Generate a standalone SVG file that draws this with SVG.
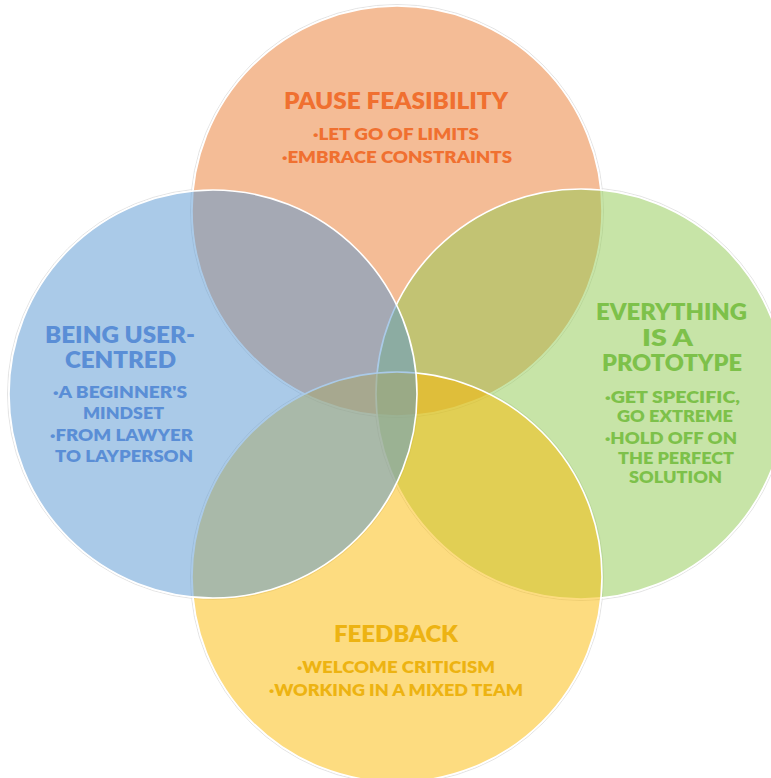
<svg xmlns="http://www.w3.org/2000/svg" width="771" height="778" viewBox="0 0 771 778">
  <style>
    .ring { stroke: #ffffff; stroke-width: 1.6; }
    .halo { fill: none; stroke: #e4e4e4; stroke-width: 1; }
    text { font-family: "Lato", "Liberation Sans", sans-serif; font-weight: 800; text-anchor: middle; }
    .title { font-size: 22px; }
    .item { font-size: 16.5px; }
    .t-orange { fill: #F07030; }
    .t-blue { fill: #5A8ED6; }
    .t-green { fill: #7DC14A; }
    .t-yellow { fill: #EDB312; }
  </style>
  <rect width="771" height="778" fill="#ffffff"/>

  <!-- faint outer edges -->
  <g id="edges">
    <circle class="halo" cx="397" cy="211" r="206.5"/>
    <circle class="halo" cx="213" cy="394" r="205.5"/>
    <circle class="halo" cx="581" cy="394" r="206.5"/>
    <circle class="halo" cx="397" cy="577" r="206.5"/>
  </g>

  <!-- four overlapping circles, stacked bottom to top -->
  <g id="pause-feasibility">
    <circle class="ring" cx="397" cy="211" r="205" fill="#F4BC96"/>
  </g>
  <g id="everything-prototype">
    <circle class="ring" cx="581" cy="394" r="205" fill="#8FC94F" fill-opacity="0.5"/>
  </g>
  <g id="feedback">
    <circle class="ring" cx="397" cy="577" r="205" fill="#FBB901" fill-opacity="0.5"/>
  </g>
  <g id="user-centred">
    <circle class="ring" cx="213" cy="394" r="204" fill="#5595D1" fill-opacity="0.5"/>
  </g>

  <!-- labels -->
  <g id="labels-pause">
    <text class="title t-orange" x="396" y="109" textLength="224" lengthAdjust="spacingAndGlyphs">PAUSE FEASIBILITY</text>
    <text class="item t-orange" x="396" y="140" textLength="166" lengthAdjust="spacingAndGlyphs">·LET GO OF LIMITS</text>
    <text class="item t-orange" x="397" y="163" textLength="230" lengthAdjust="spacingAndGlyphs">·EMBRACE CONSTRAINTS</text>
  </g>
  <g id="labels-user">
    <text class="title t-blue" x="120" y="343" textLength="150" lengthAdjust="spacingAndGlyphs">BEING USER-</text>
    <text class="title t-blue" x="120.5" y="368" textLength="111" lengthAdjust="spacingAndGlyphs">CENTRED</text>
    <text class="item t-blue" x="120" y="398" textLength="134" lengthAdjust="spacingAndGlyphs">·A BEGINNER'S</text>
    <text class="item t-blue" x="123.5" y="419" textLength="81" lengthAdjust="spacingAndGlyphs">MINDSET</text>
    <text class="item t-blue" x="121.5" y="441" textLength="143" lengthAdjust="spacingAndGlyphs">·FROM LAWYER</text>
    <text class="item t-blue" x="124" y="462" textLength="138" lengthAdjust="spacingAndGlyphs">TO LAYPERSON</text>
  </g>
  <g id="labels-prototype">
    <text class="title t-green" x="671.5" y="320" textLength="151" lengthAdjust="spacingAndGlyphs">EVERYTHING</text>
    <text class="title t-green" x="667.5" y="346" textLength="51" lengthAdjust="spacingAndGlyphs">IS A</text>
    <text class="title t-green" x="672" y="371" textLength="140" lengthAdjust="spacingAndGlyphs">PROTOTYPE</text>
    <text class="item t-green" x="672.5" y="403" textLength="135" lengthAdjust="spacingAndGlyphs">·GET SPECIFIC,</text>
    <text class="item t-green" x="675" y="422" textLength="116" lengthAdjust="spacingAndGlyphs">GO EXTREME</text>
    <text class="item t-green" x="671" y="444" textLength="132" lengthAdjust="spacingAndGlyphs">·HOLD OFF ON</text>
    <text class="item t-green" x="676" y="464" textLength="116" lengthAdjust="spacingAndGlyphs">THE PERFECT</text>
    <text class="item t-green" x="675.5" y="483" textLength="93" lengthAdjust="spacingAndGlyphs">SOLUTION</text>
  </g>
  <g id="labels-feedback">
    <text class="title t-yellow" x="396" y="642" textLength="124" lengthAdjust="spacingAndGlyphs">FEEDBACK</text>
    <text class="item t-yellow" x="396" y="673" textLength="198" lengthAdjust="spacingAndGlyphs">·WELCOME CRITICISM</text>
    <text class="item t-yellow" x="396" y="696" textLength="254" lengthAdjust="spacingAndGlyphs">·WORKING IN A MIXED TEAM</text>
  </g>
</svg>
